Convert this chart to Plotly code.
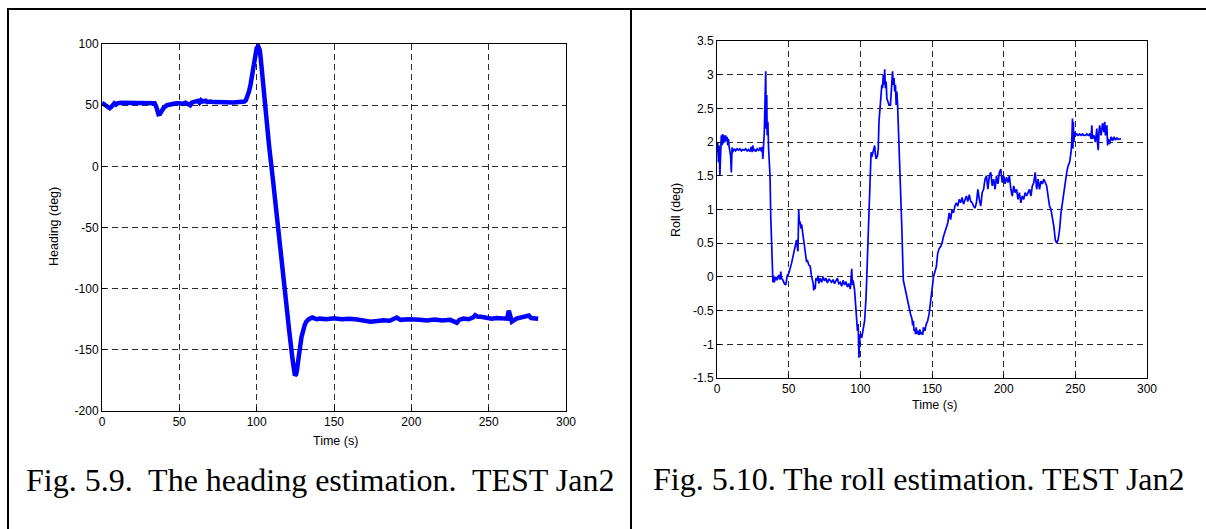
import plotly.graph_objects as go

W, H = 1206, 529

# ---------------- data: heading (left plot) ----------------
heading_t = [0, 1, 2, 3, 4, 5, 6, 7, 8, 9, 10, 12, 15, 20, 25, 30, 33, 34, 35, 35.5, 36.5, 37.5, 38.5, 40, 42,
             45, 48, 50, 52, 54, 55, 57, 58, 60, 62, 63, 64, 65, 67, 68, 70, 72, 75, 78, 80, 85, 88, 90, 92,
             93, 94, 95, 96, 97, 98, 99, 100, 101, 102, 102.6, 104, 105, 108, 110.7, 113, 115.3, 117, 118.9,
             121, 123, 124, 124.7, 125.5, 126, 127.5, 129, 131, 132, 133.7, 135, 136, 138.8, 141, 145, 150,
             155, 160, 165, 170, 173.6, 178, 182, 186, 190.6, 193, 198, 205.7, 210, 215, 220, 225, 229.4,
             231, 233.7, 237, 240, 241.3, 243, 245, 249, 252, 255, 259, 261, 262, 263, 265, 268, 271, 274,
             276, 277.5, 280, 282]
heading_v = [52, 51, 50, 49, 48, 47.5, 48.5, 50, 51.5, 50.5, 51.5, 52, 52, 52, 52, 52, 52, 51.5, 49, 45, 42.6,
             43, 45, 48, 50, 51, 51.5, 51.5, 51, 52, 51.5, 50, 52, 52.5, 53.6, 52, 54, 53, 53.6, 52.5, 53, 52.5,
             52.7, 52, 52.3, 52.2, 52.5, 52.4, 53, 54, 57, 61, 66.5, 74, 84, 91, 96.7, 98, 95, 88.5, 70, 52.7,
             17, -13, -40.6, -65, -93, -112, -134, -156, -167, -171, -170, -167, -153, -139.5, -130, -127,
             -125, -123.8, -123.6, -125, -124.5, -125, -124.2, -125, -124.5, -125.2, -126, -127, -126.5,
             -125.8, -126.2, -123.6, -125.5, -125, -125.4, -126, -125.3, -126, -125.5, -127.8, -125.5, -124.5,
             -125, -123.5, -121.6, -123, -123, -124, -124.5, -124, -124.5, -124, -124.5, -118, -127, -124.5,
             -123.5, -123, -122, -124, -124.5, -124.5, -124.5]

# ---------------- data: roll (right plot) ----------------
roll_t = [0, 0.5, 1, 1.5, 2, 2.5, 3, 3.5, 4, 4.5, 5, 5.5, 6, 6.5, 7, 7.5, 8, 8.5, 9, 9.5,
          10, 10.5, 11, 12, 13, 14, 15, 16, 17, 18, 19, 20, 21, 22, 23, 24, 24.5, 25, 25.5, 26,
          27, 28, 29, 30, 31, 31.5, 32, 32.5, 33, 33.5, 34, 34.3, 34.7, 35, 35.5, 36, 36.5, 37, 37.5, 38,
          38.5, 39, 39.5, 40, 41, 42, 43, 44, 44.5, 45, 46, 47, 48, 48.5, 49, 50, 51, 52, 53, 54,
          55, 55.5, 56, 56.5, 57, 57.5, 58, 58.5, 59, 60, 61, 62, 62.5, 63, 64, 65, 65.5, 66, 67, 67.5,
          68, 68.5, 69, 70, 70.5, 71, 72, 73, 74, 75, 76, 77, 78, 79, 80, 81, 82, 83, 84, 85,
          86, 87, 88, 89, 90, 91, 92, 93, 94, 94.5, 95, 96, 97, 97.5, 98, 98.5, 99, 99.5, 100, 101,
          102, 103, 104, 105, 106, 106.5, 107, 107.5, 108, 109, 110, 110.5, 111, 112, 112.5, 113, 114, 115, 115.5, 116,
          116.5, 117, 117.5, 118, 118.5, 119, 120, 121, 121.5, 122, 122.5, 123, 123.5, 124, 124.5, 125, 125.5, 126, 127, 128,
          129, 129.5, 130, 131, 131.5, 132, 133, 133.5, 134, 135, 136, 136.5, 137, 137.5, 138, 138.5, 139, 139.5, 140, 141,
          141.5, 142, 143, 143.5, 144, 145, 146, 147, 148, 149, 150, 150.5, 151, 152, 153, 154, 155, 156, 157, 158,
          159, 160, 161, 162, 163, 164, 165, 166, 167, 168, 169, 170, 171, 172, 173, 174, 175, 176, 177, 178,
          179, 180, 181, 182, 183, 184, 185, 186, 187, 188, 189, 190, 191, 192, 193, 194, 195, 196, 197, 198,
          199, 200, 201, 202, 203, 204, 205, 206, 207, 208, 209, 210, 211, 212, 213, 214, 215, 216, 217, 218,
          219, 220, 221, 222, 223, 224, 225, 226, 227, 228, 229, 230, 231, 232, 233, 234, 235, 236, 237, 238,
          239, 240, 241, 242, 243, 244, 245, 246, 247, 247.5, 248, 248.3, 248.6, 249, 249.5, 250, 251, 252, 253, 254,
          255, 256, 257, 258, 259, 260, 261, 261.5, 262, 263, 264, 265, 265.5, 266, 266.5, 267, 268, 269, 270, 270.5,
          271, 272, 272.5, 273, 274, 275, 276, 277, 278, 279, 280, 281, 282]
roll_v = [1.85, 2.0, 1.7, 1.95, 1.5, 1.9, 2.1, 1.95, 2.12, 1.98, 2.1, 2.0, 2.1, 2.02, 2.08, 1.95, 2.05, 1.92, 1.88, 1.8,
          1.55, 1.92, 1.85, 1.9, 1.87, 1.9, 1.88, 1.9, 1.87, 1.89, 1.88, 1.9, 1.87, 1.89, 1.86, 1.93, 1.85, 1.95, 1.87, 1.9,
          1.86, 1.9, 1.87, 1.92, 1.86, 1.93, 1.75, 1.95, 2.15, 2.6, 3.05, 2.2, 2.7, 2.1, 2.3, 1.9, 1.7, 1.5, 0.9, 0.45,
          0.15, -0.08, 0.02, -0.08, 0.0, -0.05, 0.03, -0.04, 0.08, -0.02, -0.05, -0.1, -0.12, -0.05, 0.02, 0.05, 0.12, 0.2, 0.3, 0.42,
          0.5, 0.55, 0.45, 0.38, 1.0, 0.78, 0.82, 0.72, 0.78, 0.62, 0.45, 0.28, 0.22, 0.25, 0.18, 0.16, 0.05, 0.0, -0.08, -0.2,
          -0.12, -0.18, -0.02, -0.05, 0.02, -0.1, -0.02, -0.08, 0.0, -0.06, -0.02, -0.09, -0.03, -0.06, -0.08, -0.04, -0.1, -0.06, -0.02, -0.1,
          -0.08, -0.14, -0.05, -0.12, -0.07, -0.15, -0.1, -0.18, 0.12, -0.12, -0.05, -0.2, -0.45, -0.65, -0.8, -0.7, -1.2, -0.95, -0.85, -0.9,
          -0.78, -0.65, -0.3, 0.3, 0.9, 1.3, 1.75, 1.85, 1.78, 1.85, 1.95, 1.82, 1.75, 1.8, 1.9, 2.3, 2.6, 2.85, 2.8, 3.0,
          2.85, 3.08, 2.8, 2.9, 2.65, 2.6, 2.55, 2.55, 2.7, 2.9, 3.05, 2.85, 2.95, 2.75, 2.85, 2.55, 2.75, 2.55, 2.0, 1.4,
          0.7, 0.3, -0.05, -0.15, -0.2, -0.3, -0.38, -0.45, -0.5, -0.55, -0.62, -0.72, -0.65, -0.8, -0.78, -0.85, -0.75, -0.85, -0.8, -0.86,
          -0.78, -0.85, -0.82, -0.86, -0.75, -0.8, -0.7, -0.65, -0.55, -0.4, -0.2, -0.1, 0.0, 0.1, 0.15, 0.35, 0.42, 0.45, 0.5, 0.6,
          0.68, 0.75, 0.8, 0.95, 0.85, 1.0, 0.95, 1.05, 1.1, 1.05, 1.15, 1.1, 1.18, 1.08, 1.15, 1.2, 1.12, 1.22, 1.12, 1.1,
          1.05, 1.02, 1.1, 1.3, 1.15, 1.05, 1.25, 1.3, 1.45, 1.5, 1.3, 1.5, 1.55, 1.35, 1.45, 1.3, 1.5, 1.38, 1.55, 1.6,
          1.4, 1.5, 1.38, 1.48, 1.4, 1.5, 1.3, 1.2, 1.35, 1.25, 1.3, 1.15, 1.25, 1.1, 1.2, 1.15, 1.25, 1.2, 1.25, 1.3,
          1.2, 1.35, 1.4, 1.55, 1.3, 1.45, 1.3, 1.42, 1.38, 1.45, 1.4, 1.35, 1.2, 1.05, 1.0, 0.9, 0.75, 0.55, 0.5, 0.55,
          0.7, 0.95, 1.1, 1.3, 1.45, 1.55, 1.65, 1.7, 1.85, 2.0, 2.35, 1.9, 2.3, 2.0, 2.15, 2.1, 2.12, 2.1, 2.12, 2.1,
          2.12, 2.1, 2.1, 2.12, 2.1, 2.12, 2.05, 2.25, 2.05, 2.1, 2.0, 2.2, 1.98, 1.88, 2.15, 2.25, 2.1, 2.28, 2.15, 2.3,
          2.1, 2.25, 1.95, 2.05, 1.97, 2.08, 2.02, 2.08, 2.03, 2.06, 2.04, 2.05, 2.05]

# axis ticks
x_ticks = [0, 50, 100, 150, 200, 250, 300]
heading_ticks = [-200, -150, -100, -50, 0, 50, 100]
heading_tick_text = ["-200", "-150", "-100", "-50", "0", "50", "100"]
roll_ticks = [-1.5, -1, -0.5, 0, 0.5, 1, 1.5, 2, 2.5, 3, 3.5]
roll_tick_text = ["-1.5", "-1", "-0.5", "0", "0.5", "1", "1.5", "2", "2.5", "3", "3.5"]

captions = ["Fig. 5.9.\u00a0 The heading estimation.\u00a0 TEST Jan2",
            "Fig. 5.10. The roll estimation. TEST Jan2"]


def px(x):
    return x / W


def py(y):
    return 1 - y / H


SANS = "Liberation Sans, Arial, sans-serif"
SERIF = "Liberation Serif, Times New Roman, serif"

fig = go.Figure()
fig.add_trace(go.Scatter(x=heading_t, y=heading_v, mode="lines",
                         line=dict(color="#0000ff", width=4.5), xaxis="x", yaxis="y",
                         showlegend=False, hoverinfo="skip"))
fig.add_trace(go.Scatter(x=roll_t, y=roll_v, mode="lines",
                         line=dict(color="#0000ff", width=1.7), xaxis="x2", yaxis="y2",
                         showlegend=False, hoverinfo="skip"))

axis_common = dict(
    showline=True, mirror=True, linecolor="black", linewidth=1,
    showgrid=True, gridcolor="#2a2a2a", gridwidth=1, griddash="6px,4px",
    zeroline=False, ticks="inside", ticklen=4, tickcolor="black", automargin=False,
    tickfont=dict(family=SANS, size=12, color="black"),
)

fig.update_layout(
    width=W, height=H,
    margin=dict(l=0, r=0, t=0, b=0, pad=0, autoexpand=False),
    paper_bgcolor="white", plot_bgcolor="white",
    xaxis=dict(domain=[px(102), px(566)], range=[0, 300], tickvals=x_ticks,
               anchor="y", **axis_common),
    yaxis=dict(domain=[py(411), py(44)], range=[-200, 100], tickvals=heading_ticks,
               ticktext=heading_tick_text, anchor="x", **axis_common),
    xaxis2=dict(domain=[px(717), px(1147)], range=[0, 300], tickvals=x_ticks,
                anchor="y2", **axis_common),
    yaxis2=dict(domain=[py(378), py(41)], range=[-1.5, 3.5], tickvals=roll_ticks,
                ticktext=roll_tick_text, anchor="x2", **axis_common),
)

annotations = [
    dict(text="Time (s)", x=px(335), y=py(441), xanchor="center", yanchor="middle",
         font=dict(family=SANS, size=12.5, color="black")),
    dict(text="Heading (deg)", x=px(54), y=py(227), xanchor="center", yanchor="middle",
         textangle=-90, font=dict(family=SANS, size=12.5, color="black")),
    dict(text="Time (s)", x=px(934), y=py(405), xanchor="center", yanchor="middle",
         font=dict(family=SANS, size=12.5, color="black")),
    dict(text="Roll (deg)", x=px(676), y=py(210), xanchor="center", yanchor="middle",
         textangle=-90, font=dict(family=SANS, size=12.5, color="black")),
    dict(text=captions[0], x=px(24), y=py(480), xanchor="left", yanchor="middle",
         font=dict(family=SERIF, size=32, color="black")),
    dict(text=captions[1], x=px(651), y=py(479), xanchor="left", yanchor="middle",
         font=dict(family=SERIF, size=32, color="black")),
]
for a in annotations:
    a.update(xref="paper", yref="paper", showarrow=False)
fig.update_layout(annotations=annotations)

# outer table borders
shapes = [
    dict(type="line", x0=px(7), x1=1, y0=py(9), y1=py(9)),
    dict(type="line", x0=px(8), x1=px(8), y0=py(8), y1=0),
    dict(type="line", x0=px(631), x1=px(631), y0=py(8), y1=0),
]
for s in shapes:
    s.update(xref="paper", yref="paper", line=dict(color="black", width=2))
fig.update_layout(shapes=shapes)

fig.write_html("out.html")
